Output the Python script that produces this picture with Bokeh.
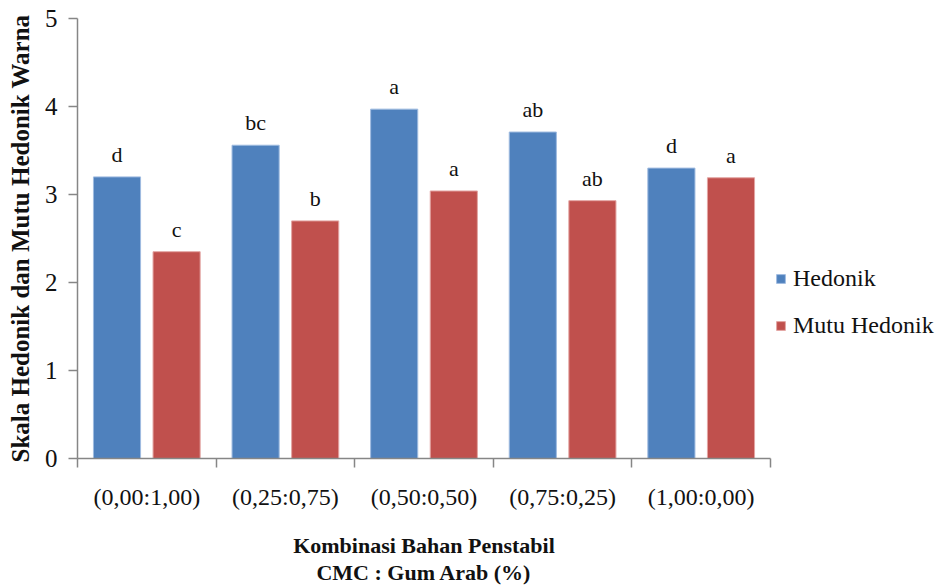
from bokeh.plotting import figure
from bokeh.models import (ColumnDataSource, Range1d, FixedTicker, LabelSet, Legend, LegendItem)
from bokeh.embed import file_html
from bokeh.resources import INLINE

categories = ["(0,00:1,00)", "(0,25:0,75)", "(0,50:0,50)", "(0,75:0,25)", "(1,00:0,00)"]
hedonik = [3.20, 3.56, 3.97, 3.71, 3.30]
mutu_hedonik = [2.35, 2.70, 3.04, 2.93, 3.19]
hedonik_letters = ["d", "bc", "a", "ab", "d"]
mutu_letters = ["c", "b", "a", "ab", "a"]
y_ticks = [0, 1, 2, 3, 4, 5]

FONT = "Liberation Serif"
BLUE = "#4F81BD"
RED = "#C0504D"

n = len(categories)
centers = [i + 0.5 for i in range(n)]
off = 0.215
bw = 0.34

src_h = ColumnDataSource(dict(x=[c - off for c in centers], top=hedonik, lab=hedonik_letters))
src_m = ColumnDataSource(dict(x=[c + off for c in centers], top=mutu_hedonik, lab=mutu_letters))

p = figure(frame_width=693, frame_height=440, width=939, height=585,
           output_backend="svg", toolbar_location=None,
           x_range=Range1d(0, n), y_range=Range1d(0, 5),
           min_border_left=77, min_border_right=169, min_border_top=18, min_border_bottom=127)
p.outline_line_color = None
p.xgrid.grid_line_color = None
p.ygrid.grid_line_color = None
p.background_fill_color = "white"
p.border_fill_color = "white"

rh = p.vbar(x="x", top="top", width=bw, source=src_h, fill_color=BLUE, line_color="#9fbbe0", line_width=1)
rm = p.vbar(x="x", top="top", width=bw, source=src_m, fill_color=RED, line_color="#e3a5a3", line_width=1)

for s in (src_h, src_m):
    p.add_layout(LabelSet(x="x", y="top", text="lab", source=s, text_align="center",
                          text_baseline="alphabetic", y_offset=15,
                          text_font=FONT, text_font_size="22px", text_color="#111111"))

# x axis
xa = p.xaxis[0]
xa.ticker = FixedTicker(ticks=centers, minor_ticks=list(range(n + 1)))
xa.major_label_overrides = {c: lab for c, lab in zip(centers, categories)}
xa.major_tick_out = 0
xa.major_tick_in = 0
xa.minor_tick_out = 9
xa.minor_tick_in = 0
xa.minor_tick_line_color = "#868686"
xa.minor_tick_line_width = 1.5
xa.axis_line_color = "#868686"
xa.axis_line_width = 1.5
xa.major_label_text_font = FONT
xa.major_label_text_font_size = "24px"
xa.major_label_text_color = "#111111"
xa.major_label_standoff = 16
xa.axis_label = "Kombinasi Bahan Penstabil\nCMC : Gum Arab (%)"
xa.axis_label_text_font = FONT
xa.axis_label_text_font_size = "22px"
xa.axis_label_text_font_style = "bold"
xa.axis_label_text_color = "#111111"
xa.axis_label_text_line_height = 1.1
xa.axis_label_standoff = 20

# y axis
ya = p.yaxis[0]
ya.ticker = FixedTicker(ticks=y_ticks, minor_ticks=[])
ya.major_tick_out = 9
ya.major_tick_in = 0
ya.major_tick_line_color = "#868686"
ya.major_tick_line_width = 1.5
ya.axis_line_color = "#868686"
ya.axis_line_width = 1.5
ya.major_label_text_font = FONT
ya.major_label_text_font_size = "25px"
ya.major_label_text_color = "#111111"
ya.major_label_standoff = 11
ya.axis_label = "Skala Hedonik dan Mutu Hedonik Warna"
ya.axis_label_text_font = FONT
ya.axis_label_text_font_size = "25px"
ya.axis_label_text_font_style = "bold"
ya.axis_label_text_color = "#111111"
ya.axis_label_standoff = 8

legend = Legend(items=[LegendItem(label="Hedonik", renderers=[rh]),
                       LegendItem(label="Mutu Hedonik", renderers=[rm])],
                location=(5, 119), orientation="vertical",
                border_line_color=None, background_fill_alpha=0,
                glyph_width=11, glyph_height=11, label_standoff=7,
                label_height=24, spacing=20, padding=0, margin=0,
                label_text_font=FONT, label_text_font_size="24px", label_text_color="#111111")
p.add_layout(legend, "right")

open("out.html", "w").write(file_html(p, INLINE))
